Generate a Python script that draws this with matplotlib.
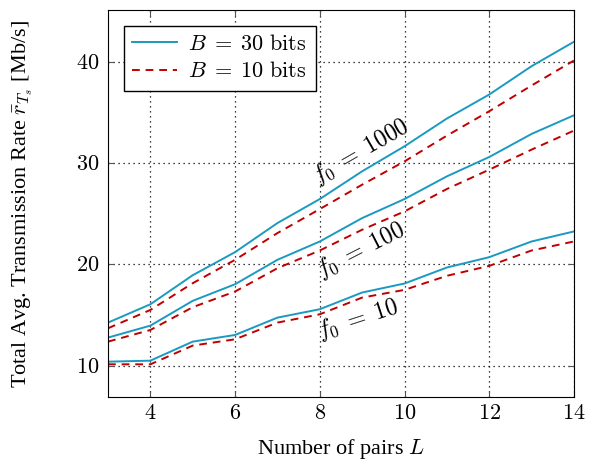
import matplotlib
matplotlib.use('Agg')
import matplotlib.pyplot as plt
from matplotlib.ticker import FuncFormatter

plt.rcParams['font.family'] = ['Liberation Serif', 'DejaVu Serif']
plt.rcParams['mathtext.fontset'] = 'cm'

# number of pairs L
pairs = [3, 4, 5, 6, 7, 8, 9, 10, 11, 12, 13, 14]

# total avg. transmission rate [Mb/s]
f1000_b30 = [14.25, 16.06, 18.93, 21.21, 24.08, 26.45, 29.19, 31.66, 34.40, 36.77, 39.57, 41.98]
f1000_b10 = [13.69, 15.50, 18.14, 20.45, 23.09, 25.46, 27.87, 30.17, 32.71, 35.12, 37.66, 40.13]
f100_b30 = [12.77, 13.95, 16.40, 18.04, 20.45, 22.26, 24.57, 26.45, 28.69, 30.60, 32.88, 34.72]
f100_b10 = [12.37, 13.52, 15.77, 17.32, 19.62, 21.37, 23.42, 25.23, 27.44, 29.35, 31.33, 33.21]
f10_b30 = [10.39, 10.49, 12.37, 13.03, 14.74, 15.57, 17.22, 18.11, 19.69, 20.71, 22.26, 23.25]
f10_b10 = [10.13, 10.13, 11.98, 12.60, 14.25, 15.07, 16.72, 17.48, 18.87, 19.85, 21.37, 22.26]

BLUE = '#1a9ac0'
RED = '#c00000'
DASH = (0, (4, 3))

fig = plt.figure(figsize=(5.89, 4.63), dpi=100)
ax = fig.add_axes([0.1834, 0.1425, 0.791, 0.8355])

ax.plot(pairs, f1000_b30, color=BLUE, lw=1.4, label=r'$B\;=\;30\ \mathrm{bits}$')
ax.plot(pairs, f1000_b10, color=RED, lw=1.4, ls=DASH, label=r'$B\;=\;10\ \mathrm{bits}$')
ax.plot(pairs, f100_b30, color=BLUE, lw=1.4)
ax.plot(pairs, f100_b10, color=RED, lw=1.4, ls=DASH)
ax.plot(pairs, f10_b30, color=BLUE, lw=1.4)
ax.plot(pairs, f10_b10, color=RED, lw=1.4, ls=DASH)

# curve labels
ax.text(8.97, 31.2, r'$f_0\;=\;1000$', fontsize=17, rotation=30, ha='center', va='center')
ax.text(8.97, 21.4, r'$f_0\;=\;100$', fontsize=17, rotation=27, ha='center', va='center')
ax.text(8.9, 14.6, r'$f_0\;=\;10$', fontsize=17, rotation=18, ha='center', va='center')

ax.set_xlim(3, 14)
ax.set_ylim(6.9, 45.1)
ax.set_xticks([4, 6, 8, 10, 12, 14])
ax.set_yticks([10, 20, 30, 40])
fmt = FuncFormatter(lambda v, p: r'$%d$' % v)
ax.xaxis.set_major_formatter(fmt)
ax.yaxis.set_major_formatter(fmt)
ax.tick_params(direction='in', top=True, right=True, labelsize=16, length=4,
               color='#555555', pad=6)
ax.grid(True, ls=(0, (1, 3)), color='black', lw=0.9)

ax.set_xlabel(r'Number of pairs $L$', fontsize=16, labelpad=9)
ax.set_ylabel(r'Total Avg. Transmission Rate $\bar{r}_{T_s}$ [Mb/s]', fontsize=16, labelpad=30)

leg = ax.legend(loc='upper left', fontsize=16, fancybox=False, framealpha=1,
                edgecolor='black', handlelength=2.0, handletextpad=0.5,
                borderaxespad=0.7, labelspacing=0.3)
leg.get_frame().set_linewidth(1.0)

fig.savefig('out.png', dpi=100, facecolor='white')
